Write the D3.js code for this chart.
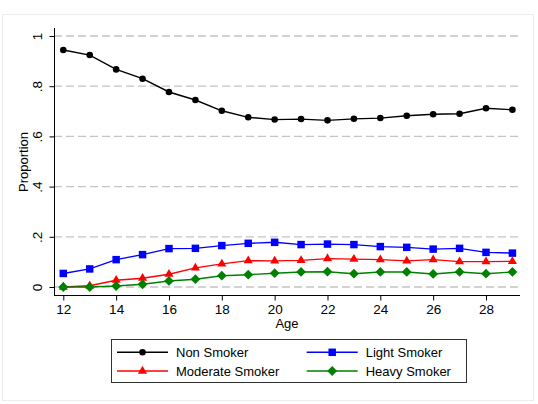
<!DOCTYPE html>
<html>
<head>
<meta charset="utf-8">
<script src="https://cdn.jsdelivr.net/npm/d3@7"></script>
<style>
  body { margin: 0; background: #fff; }
  text { font-family: "Liberation Sans", Arial, sans-serif; }
</style>
</head>
<body>
<svg id="chart"></svg>
<script>
var ages = [12,13,14,15,16,17,18,19,20,21,22,23,24,25,26,27,28,29];
var nonSmoker = [0.944,0.924,0.867,0.830,0.777,0.745,0.702,0.676,0.667,0.669,0.664,0.670,0.673,0.682,0.688,0.690,0.712,0.706];
var lightSmoker = [0.054,0.072,0.109,0.129,0.153,0.154,0.165,0.174,0.178,0.169,0.171,0.169,0.161,0.158,0.151,0.154,0.138,0.135];
var moderateSmoker = [0.000,0.005,0.027,0.035,0.051,0.076,0.092,0.105,0.104,0.106,0.113,0.111,0.109,0.104,0.109,0.101,0.101,0.102];
var heavySmoker = [0.000,0.000,0.004,0.011,0.024,0.031,0.045,0.049,0.055,0.060,0.061,0.053,0.060,0.060,0.052,0.060,0.053,0.060];
var xTicks = [12,14,16,18,20,22,24,26,28];
var yTicks = [0,0.2,0.4,0.6,0.8,1];
var yTickLabels = ["0",".2",".4",".6",".8","1"];

var series = [
  {name:"Non Smoker", values:nonSmoker, color:"#000000", symbol:"circle"},
  {name:"Light Smoker", values:lightSmoker, color:"#0000ff", symbol:"square"},
  {name:"Moderate Smoker", values:moderateSmoker, color:"#ff0000", symbol:"triangle"},
  {name:"Heavy Smoker", values:heavySmoker, color:"#008000", symbol:"diamond"}
];

var w = 538, h = 404;
var svg = d3.select("svg#chart")
            .attr("width",w)
            .attr("height",h);

// faint outer frame
svg.append("rect")
   .attr("x",2.5).attr("y",14.5)
   .attr("width",531).attr("height",386)
   .attr("fill","#fff")
   .attr("stroke","#ececec");

var plotLeft = 54, plotRight = 520;
var xScale = d3.scaleLinear()
               .domain([12,28])
               .range([63.3,486]);
var yScale = d3.scaleLinear()
               .domain([0,1])
               .range([287,36]);

// gridlines
svg.append("g")
   .selectAll("line")
   .data(yTicks)
   .enter()
   .append("line")
   .attr("x1",plotLeft)
   .attr("x2",plotRight)
   .attr("y1",function(d){ return yScale(d); })
   .attr("y2",function(d){ return yScale(d); })
   .attr("stroke","#c4c4c4")
   .attr("stroke-width",1.3)
   .attr("stroke-dasharray","8,4");

// axes
var xAxis = d3.axisBottom(xScale)
              .tickValues(xTicks)
              .tickSize(5)
              .tickSizeOuter(0)
              .tickFormat(d3.format("d"));
var gx = svg.append("g")
            .attr("transform","translate(0,295.5)")
            .call(xAxis);
gx.select(".domain").remove();
gx.append("line")
  .attr("x1",plotLeft).attr("x2",plotRight)
  .attr("stroke","#000").attr("stroke-width",1);
gx.selectAll(".tick line").attr("stroke","#000");
gx.selectAll(".tick text")
  .attr("y",9)
  .attr("font-size",13.5)
  .attr("fill","#000")
  .attr("font-family","Liberation Sans, Arial, sans-serif");

var yAxis = d3.axisLeft(yScale)
              .tickValues(yTicks)
              .tickSize(5)
              .tickSizeOuter(0)
              .tickFormat(function(d,i){ return yTickLabels[i]; });
var gy = svg.append("g")
            .attr("transform","translate(54.5,0)")
            .call(yAxis);
gy.select(".domain").remove();
gy.append("line")
  .attr("y1",28).attr("y2",295.5)
  .attr("stroke","#000").attr("stroke-width",1);
gy.selectAll(".tick line").attr("stroke","#000");
gy.selectAll(".tick text")
  .attr("x",0).attr("y",0).attr("dy",0)
  .attr("font-size",13.5)
  .attr("fill","#000")
  .attr("text-anchor","middle")
  .attr("font-family","Liberation Sans, Arial, sans-serif")
  .attr("transform","translate(-13,0) rotate(-90)");

svg.append("text")
   .attr("transform","translate(28,162) rotate(-90)")
   .attr("text-anchor","middle")
   .attr("font-size",13)
   .text("Proportion");

svg.append("text")
   .attr("x",287).attr("y",328)
   .attr("text-anchor","middle")
   .attr("font-size",13)
   .text("Age");

// series markers
function symbolPath(s){
  if (s=="circle") return d3.symbol().type(d3.symbolCircle).size(34)();
  if (s=="square") return d3.symbol().type(d3.symbolSquare).size(56)();
  if (s=="triangle") return d3.symbol().type(d3.symbolTriangle).size(36)();
  return d3.symbol().type(d3.symbolSquare).size(48)();
}
function symbolRotate(s){
  return s=="diamond" ? " rotate(45)" : "";
}

var line = d3.line()
             .x(function(d){ return xScale(d.age); })
             .y(function(d){ return yScale(d.v); });

// drawn in legend order, later series on top
var groups = svg.selectAll("g.series")
                .data(series)
                .enter()
                .append("g")
                .classed("series",true);

groups.append("path")
      .attr("d",function(d){
        return line(d.values.map(function(v,i){ return {age:ages[i], v:v}; }));
      })
      .attr("fill","none")
      .attr("stroke",function(d){ return d.color; })
      .attr("stroke-width",1.4);

groups.selectAll("path.pt")
      .data(function(d){
        return d.values.map(function(v,i){ return {age:ages[i], v:v, s:d}; });
      })
      .enter()
      .append("path")
      .classed("pt",true)
      .attr("transform",function(d){
        return "translate("+xScale(d.age)+","+yScale(d.v)+")"+symbolRotate(d.s.symbol);
      })
      .attr("d",function(d){ return symbolPath(d.s.symbol); })
      .attr("fill",function(d){ return d.s.color; });

// legend
var legend = svg.append("g");
legend.append("rect")
      .attr("x",111.5).attr("y",339.5)
      .attr("width",355).attr("height",43)
      .attr("fill","#fff")
      .attr("stroke","#333");

var legendItems = legend.selectAll("g.item")
                        .data(series)
                        .enter()
                        .append("g")
                        .classed("item",true)
                        .attr("transform",function(d,i){
                          var col = i%2, row = Math.floor(i/2);
                          return "translate("+(col==0?117:306.7)+","+(row==0?352.3:371)+")";
                        });
legendItems.append("line")
           .attr("x1",0).attr("x2",51)
           .attr("stroke",function(d){ return d.color; })
           .attr("stroke-width",1.4);
legendItems.append("path")
           .attr("transform",function(d){ return "translate(25.5,0)"+symbolRotate(d.symbol); })
           .attr("d",function(d){ return symbolPath(d.symbol); })
           .attr("fill",function(d){ return d.color; });
legendItems.append("text")
           .attr("x",59)
           .attr("y",0)
           .attr("dy","0.35em")
           .attr("font-size",13)
           .text(function(d){ return d.name; });
</script>
</body>
</html>
